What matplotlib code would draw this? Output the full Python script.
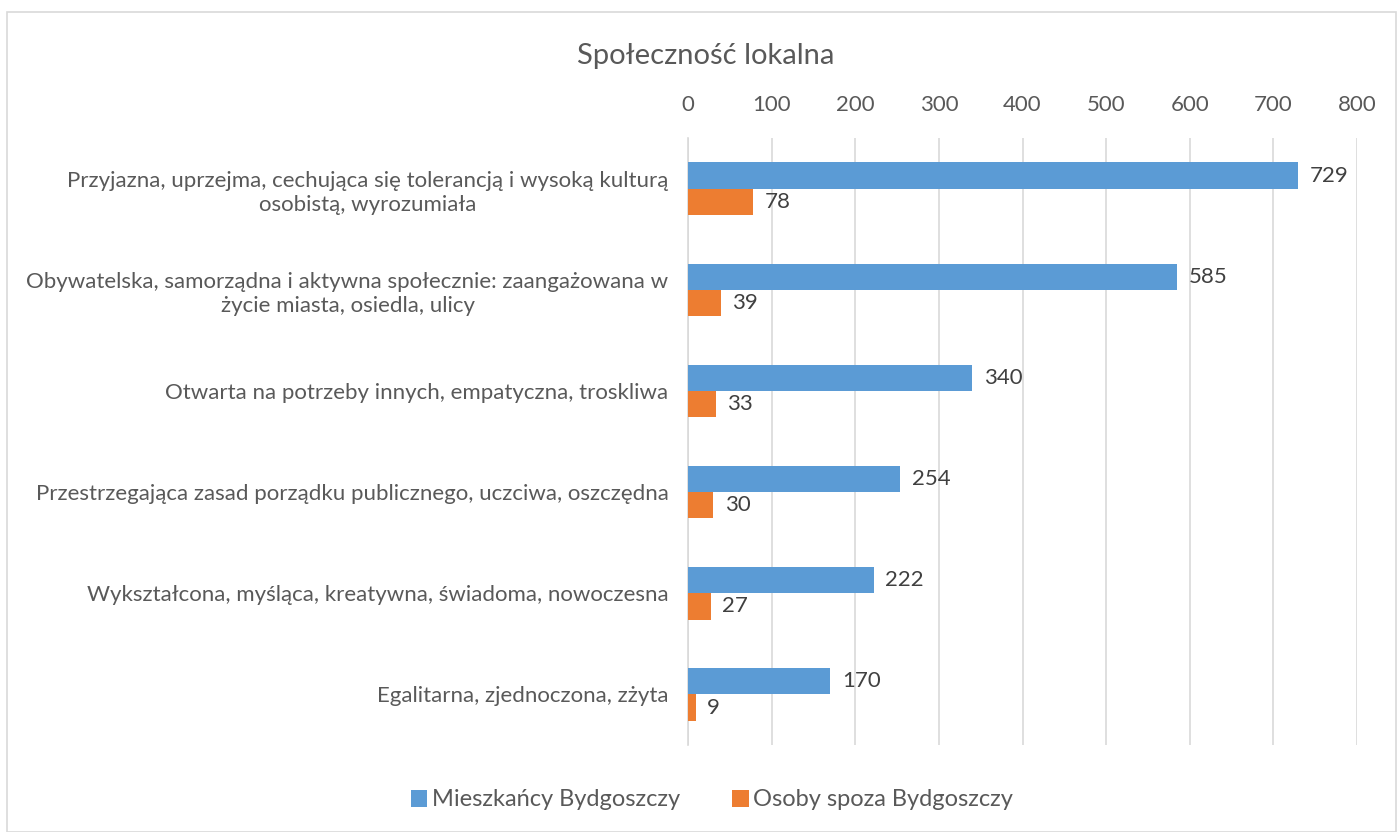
import matplotlib.pyplot as plt
import numpy as np
from matplotlib.patches import Rectangle

categories = [
    "Przyjazna, uprzejma, cechująca się tolerancją i wysoką kulturą\nosobistą, wyrozumiała",
    "Obywatelska, samorządna i aktywna społecznie: zaangażowana w\nżycie miasta, osiedla, ulicy",
    "Otwarta na potrzeby innych, empatyczna, troskliwa",
    "Przestrzegająca zasad porządku publicznego, uczciwa, oszczędna",
    "Wykształcona, myśląca, kreatywna, świadoma, nowoczesna",
    "Egalitarna, zjednoczona, zżyta",
]
residents = [729, 585, 340, 254, 222, 170]
outsiders = [78, 39, 33, 30, 27, 9]
series_names = ["Mieszkańcy Bydgoszczy", "Osoby spoza Bydgoszczy"]
x_ticks = [0, 100, 200, 300, 400, 500, 600, 700, 800]

BLUE = "#5B9BD5"
ORANGE = "#ED7D31"
TEXT = "#595959"

plt.rcParams["font.family"] = ["Lato", "DejaVu Sans"]

fig = plt.figure(figsize=(13.97, 8.32), dpi=100)
ax = fig.add_axes([0.4925, 0.1046, 0.4789, 0.7294])

# ramka wykresu
fig.patches.append(Rectangle((7 / 1397, 0), 1 - 7 / 1397 - 0.0005, 1 - 12 / 832,
                             transform=fig.transFigure, fill=False,
                             edgecolor="#D9D9D9", linewidth=1.2))

y = np.arange(len(categories))
h = 0.26
b1 = ax.barh(y - h / 2, residents, height=h, color=BLUE, label=series_names[0], zorder=3)
b2 = ax.barh(y + h / 2, outsiders, height=h, color=ORANGE, label=series_names[1], zorder=3)

for bars, vals in [(b1, residents), (b2, outsiders)]:
    for bar, v in zip(bars, vals):
        ax.text(bar.get_width() + 14, bar.get_y() + bar.get_height() / 2, str(v),
                va="center", ha="left", fontsize=16, color="#404040")

ax.set_xlim(0, 800)
ax.set_ylim(len(categories) - 0.5, -0.5)
ax.set_xticks(x_ticks)
ax.xaxis.tick_top()
ax.tick_params(axis="x", length=0, labelsize=16, labelcolor=TEXT, pad=17)
ax.set_yticks(y)
ax.set_yticklabels(categories, fontsize=16, color=TEXT, ha="right",
                   multialignment="center", linespacing=1.25)
ax.tick_params(axis="y", length=0, pad=14)
ax.grid(axis="x", color="#D9D9D9", linewidth=1.2, zorder=0)
for s in ["top", "right", "bottom"]:
    ax.spines[s].set_visible(False)
ax.spines["left"].set_color("#D9D9D9")
ax.spines["left"].set_linewidth(1.2)

fig.text(706 / 1397, 1 - 56 / 832, "Społeczność lokalna", ha="center", va="center",
         fontsize=21, color=TEXT)

fig.legend(handles=[b1, b2], loc="center", bbox_to_anchor=(712 / 1397, 1 - 800 / 832),
           ncol=2, frameon=False, fontsize=17, labelcolor=TEXT,
           handlelength=0.7, handleheight=0.7, handletextpad=0.2, columnspacing=2.2)

fig.savefig("out.png", dpi=100)
